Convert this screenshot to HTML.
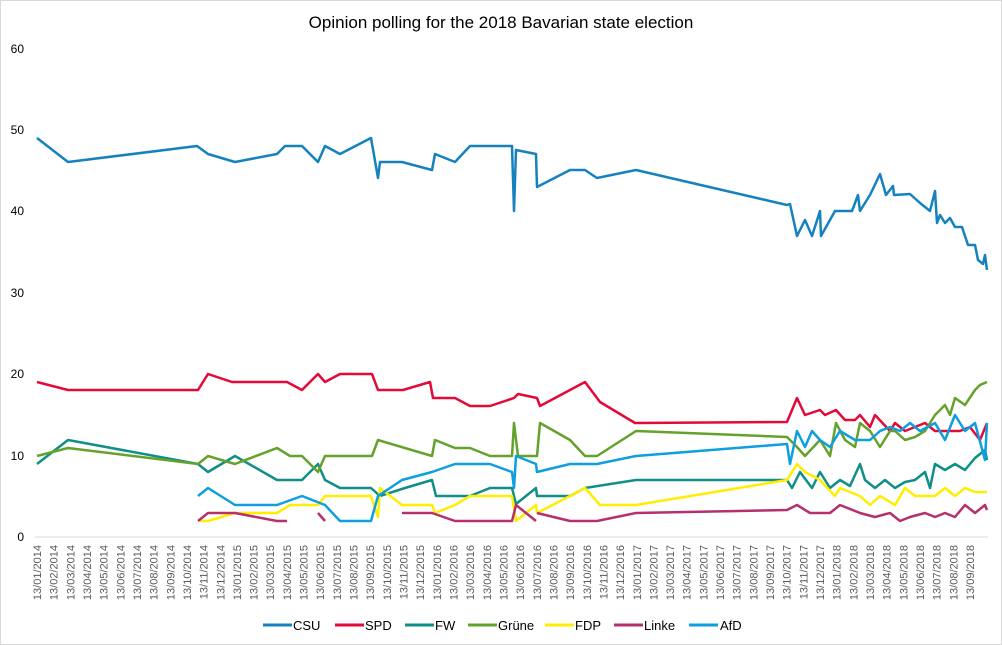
<!DOCTYPE html>
<html><head><meta charset="utf-8"><style>
html,body{margin:0;padding:0;background:#fff;}
svg{display:block;font-family:"Liberation Sans",Arial,sans-serif;}
.d text{font-size:11px;fill:#595959;}
</style></head><body>
<svg width="1002" height="645" viewBox="0 0 1002 645">
<rect x="0.5" y="0.5" width="1001" height="644" fill="#fff" stroke="#d9d9d9"/>
<text x="501" y="28" text-anchor="middle" font-size="17" fill="#000">Opinion polling for the 2018 Bavarian state election</text>
<g font-size="12" fill="#000" text-anchor="end">
<text x="24" y="541">0</text><text x="24" y="460">10</text><text x="24" y="378">20</text><text x="24" y="297">30</text><text x="24" y="215">40</text><text x="24" y="134">50</text><text x="24" y="53">60</text>
</g>
<line x1="35" y1="537" x2="988" y2="537" stroke="#d9d9d9" stroke-width="1"/>
<g fill="none" stroke-width="2.5" stroke-linejoin="round">
<polyline stroke="#1582bf" points="37,138 68,162 197,146 208,154 235,162 277,154 285,146 302,146 318,162 325,146 340,154 371,138 378,178 380,162 402,162 432,170 435,154 455,162 470,146 512,146 514,211 516,150 536,154 537,187 570,170 585,170 597,178 636,170 787,205 790,204 797,236 805,220 812,236 820,211 821,236 835,211 852,211 858,195 860,211 870,195 880,174 886,195 893,186 894,195 910,194 920,203 930,211 935,191 937,223 940,215 945,223 950,218 955,227 962,227 968,245 975,245 978,260 983,264 985,255 987,270"/>
<polyline stroke="#e30a3a" points="37,382 68,390 198,390 208,374 232,382 287,382 302,390 318,374 325,382 340,374 372,374 378,390 403,390 430,382 433,398 455,398 470,406 490,406 514,398 518,394 537,398 540,406 570,390 585,382 600,402 635,423 787,422 797,398 805,415 820,410 825,415 836,410 845,420 855,420 860,415 870,427 875,415 890,431 895,423 905,431 925,423 935,431 960,431 970,427 980,440 987,423"/>
<polyline stroke="#0f8f87" points="37,464 68,440 198,464 208,472 235,456 277,480 302,480 318,464 325,480 340,488 371,488 380,496 405,488 432,480 436,496 470,496 490,488 512,488 516,504 536,488 537,496 570,496 585,488 636,480 787,480 792,488 800,472 812,488 820,472 830,488 840,480 850,486 860,464 865,480 875,488 885,480 895,488 905,482 915,480 925,472 930,488 935,464 945,470 955,464 965,470 975,458 985,450 987,460"/>
<polyline stroke="#65a22c" points="37,456 68,448 198,464 208,456 235,464 277,448 290,456 302,456 318,472 325,456 372,456 378,440 432,456 435,440 455,448 470,448 490,456 512,456 514,423 518,456 537,456 540,423 570,440 585,456 597,456 636,431 787,437 797,447 805,456 820,440 830,456 836,423 845,440 855,447 860,423 870,431 880,447 890,431 895,431 905,440 915,437 925,431 935,415 945,405 950,415 955,398 965,405 975,390 980,385 987,382"/>
<polyline stroke="#ffee00" points="200,521 208,521 235,513 277,513 290,505 318,505 325,496 371,496 378,517 380,488 402,505 432,505 435,513 455,505 470,496 512,496 516,521 536,505 537,513 570,496 585,488 600,505 636,505 787,480 797,464 805,472 820,480 835,496 840,488 860,496 870,505 880,496 895,505 905,488 915,496 935,496 945,488 955,496 965,488 975,492 987,492"/>
<polyline stroke="#b4306e" points="198,521 208,513 235,513 277,521 287,521"/>
<polyline stroke="#b4306e" points="318,513 325,521"/>
<polyline stroke="#b4306e" points="402,513 432,513 455,521 512,521 516,505 536,521"/>
<polyline stroke="#b4306e" points="537,513 570,521 597,521 636,513 787,510 797,505 810,513 830,513 840,505 860,513 875,517 890,513 900,521 910,517 925,513 935,517 945,513 955,517 965,505 975,513 985,505 987,510"/>
<polyline stroke="#0d9fe0" points="198,496 208,488 235,505 277,505 302,496 325,505 340,521 371,521 378,496 402,480 432,472 455,464 490,464 512,472 514,488 516,456 536,464 537,472 570,464 597,464 636,456 787,444 790,464 797,431 805,447 812,431 820,440 830,447 840,431 855,440 870,440 880,431 890,427 900,431 910,423 920,431 935,423 945,440 955,415 965,431 975,423 985,460 987,423"/>
</g>
<g class="d" text-anchor="end">
<text transform="translate(41,545) rotate(-90)">13/01/2014</text>
<text transform="translate(57.7,545) rotate(-90)">13/02/2014</text>
<text transform="translate(74.3,545) rotate(-90)">13/03/2014</text>
<text transform="translate(91,545) rotate(-90)">13/04/2014</text>
<text transform="translate(107.6,545) rotate(-90)">13/05/2014</text>
<text transform="translate(124.3,545) rotate(-90)">13/06/2014</text>
<text transform="translate(141,545) rotate(-90)">13/07/2014</text>
<text transform="translate(157.6,545) rotate(-90)">13/08/2014</text>
<text transform="translate(174.3,545) rotate(-90)">13/09/2014</text>
<text transform="translate(190.9,545) rotate(-90)">13/10/2014</text>
<text transform="translate(207.6,545) rotate(-90)">13/11/2014</text>
<text transform="translate(224.3,545) rotate(-90)">13/12/2014</text>
<text transform="translate(240.9,545) rotate(-90)">13/01/2015</text>
<text transform="translate(257.6,545) rotate(-90)">13/02/2015</text>
<text transform="translate(274.2,545) rotate(-90)">13/03/2015</text>
<text transform="translate(290.9,545) rotate(-90)">13/04/2015</text>
<text transform="translate(307.6,545) rotate(-90)">13/05/2015</text>
<text transform="translate(324.2,545) rotate(-90)">13/06/2015</text>
<text transform="translate(340.9,545) rotate(-90)">13/07/2015</text>
<text transform="translate(357.5,545) rotate(-90)">13/08/2015</text>
<text transform="translate(374.2,545) rotate(-90)">13/09/2015</text>
<text transform="translate(390.9,545) rotate(-90)">13/10/2015</text>
<text transform="translate(407.5,545) rotate(-90)">13/11/2015</text>
<text transform="translate(424.2,545) rotate(-90)">13/12/2015</text>
<text transform="translate(440.8,545) rotate(-90)">13/01/2016</text>
<text transform="translate(457.5,545) rotate(-90)">13/02/2016</text>
<text transform="translate(474.2,545) rotate(-90)">13/03/2016</text>
<text transform="translate(490.8,545) rotate(-90)">13/04/2016</text>
<text transform="translate(507.5,545) rotate(-90)">13/05/2016</text>
<text transform="translate(524.1,545) rotate(-90)">13/06/2016</text>
<text transform="translate(540.8,545) rotate(-90)">13/07/2016</text>
<text transform="translate(557.5,545) rotate(-90)">13/08/2016</text>
<text transform="translate(574.1,545) rotate(-90)">13/09/2016</text>
<text transform="translate(590.8,545) rotate(-90)">13/10/2016</text>
<text transform="translate(607.4,545) rotate(-90)">13/11/2016</text>
<text transform="translate(624.1,545) rotate(-90)">13/12/2016</text>
<text transform="translate(640.8,545) rotate(-90)">13/01/2017</text>
<text transform="translate(657.4,545) rotate(-90)">13/02/2017</text>
<text transform="translate(674.1,545) rotate(-90)">13/03/2017</text>
<text transform="translate(690.7,545) rotate(-90)">13/04/2017</text>
<text transform="translate(707.4,545) rotate(-90)">13/05/2017</text>
<text transform="translate(724.1,545) rotate(-90)">13/06/2017</text>
<text transform="translate(740.7,545) rotate(-90)">13/07/2017</text>
<text transform="translate(757.4,545) rotate(-90)">13/08/2017</text>
<text transform="translate(774,545) rotate(-90)">13/09/2017</text>
<text transform="translate(790.7,545) rotate(-90)">13/10/2017</text>
<text transform="translate(807.4,545) rotate(-90)">13/11/2017</text>
<text transform="translate(824,545) rotate(-90)">13/12/2017</text>
<text transform="translate(840.7,545) rotate(-90)">13/01/2018</text>
<text transform="translate(857.3,545) rotate(-90)">13/02/2018</text>
<text transform="translate(874,545) rotate(-90)">13/03/2018</text>
<text transform="translate(890.7,545) rotate(-90)">13/04/2018</text>
<text transform="translate(907.3,545) rotate(-90)">13/05/2018</text>
<text transform="translate(924,545) rotate(-90)">13/06/2018</text>
<text transform="translate(940.7,545) rotate(-90)">13/07/2018</text>
<text transform="translate(957.3,545) rotate(-90)">13/08/2018</text>
<text transform="translate(974,545) rotate(-90)">13/09/2018</text>
</g>
<g stroke-width="3" font-size="13" fill="#000">
<line x1="263" y1="625" x2="292" y2="625" stroke="#1582bf"/><text x="293" y="630">CSU</text>
<line x1="335" y1="625" x2="364" y2="625" stroke="#e30a3a"/><text x="365" y="630">SPD</text>
<line x1="405" y1="625" x2="434" y2="625" stroke="#0f8f87"/><text x="435" y="630">FW</text>
<line x1="468" y1="625" x2="497" y2="625" stroke="#65a22c"/><text x="498" y="630">Grüne</text>
<line x1="545" y1="625" x2="574" y2="625" stroke="#ffee00"/><text x="575" y="630">FDP</text>
<line x1="614" y1="625" x2="643" y2="625" stroke="#b4306e"/><text x="644" y="630">Linke</text>
<line x1="689" y1="625" x2="718" y2="625" stroke="#0d9fe0"/><text x="720" y="630">AfD</text>
</g>
</svg>
</body></html>
